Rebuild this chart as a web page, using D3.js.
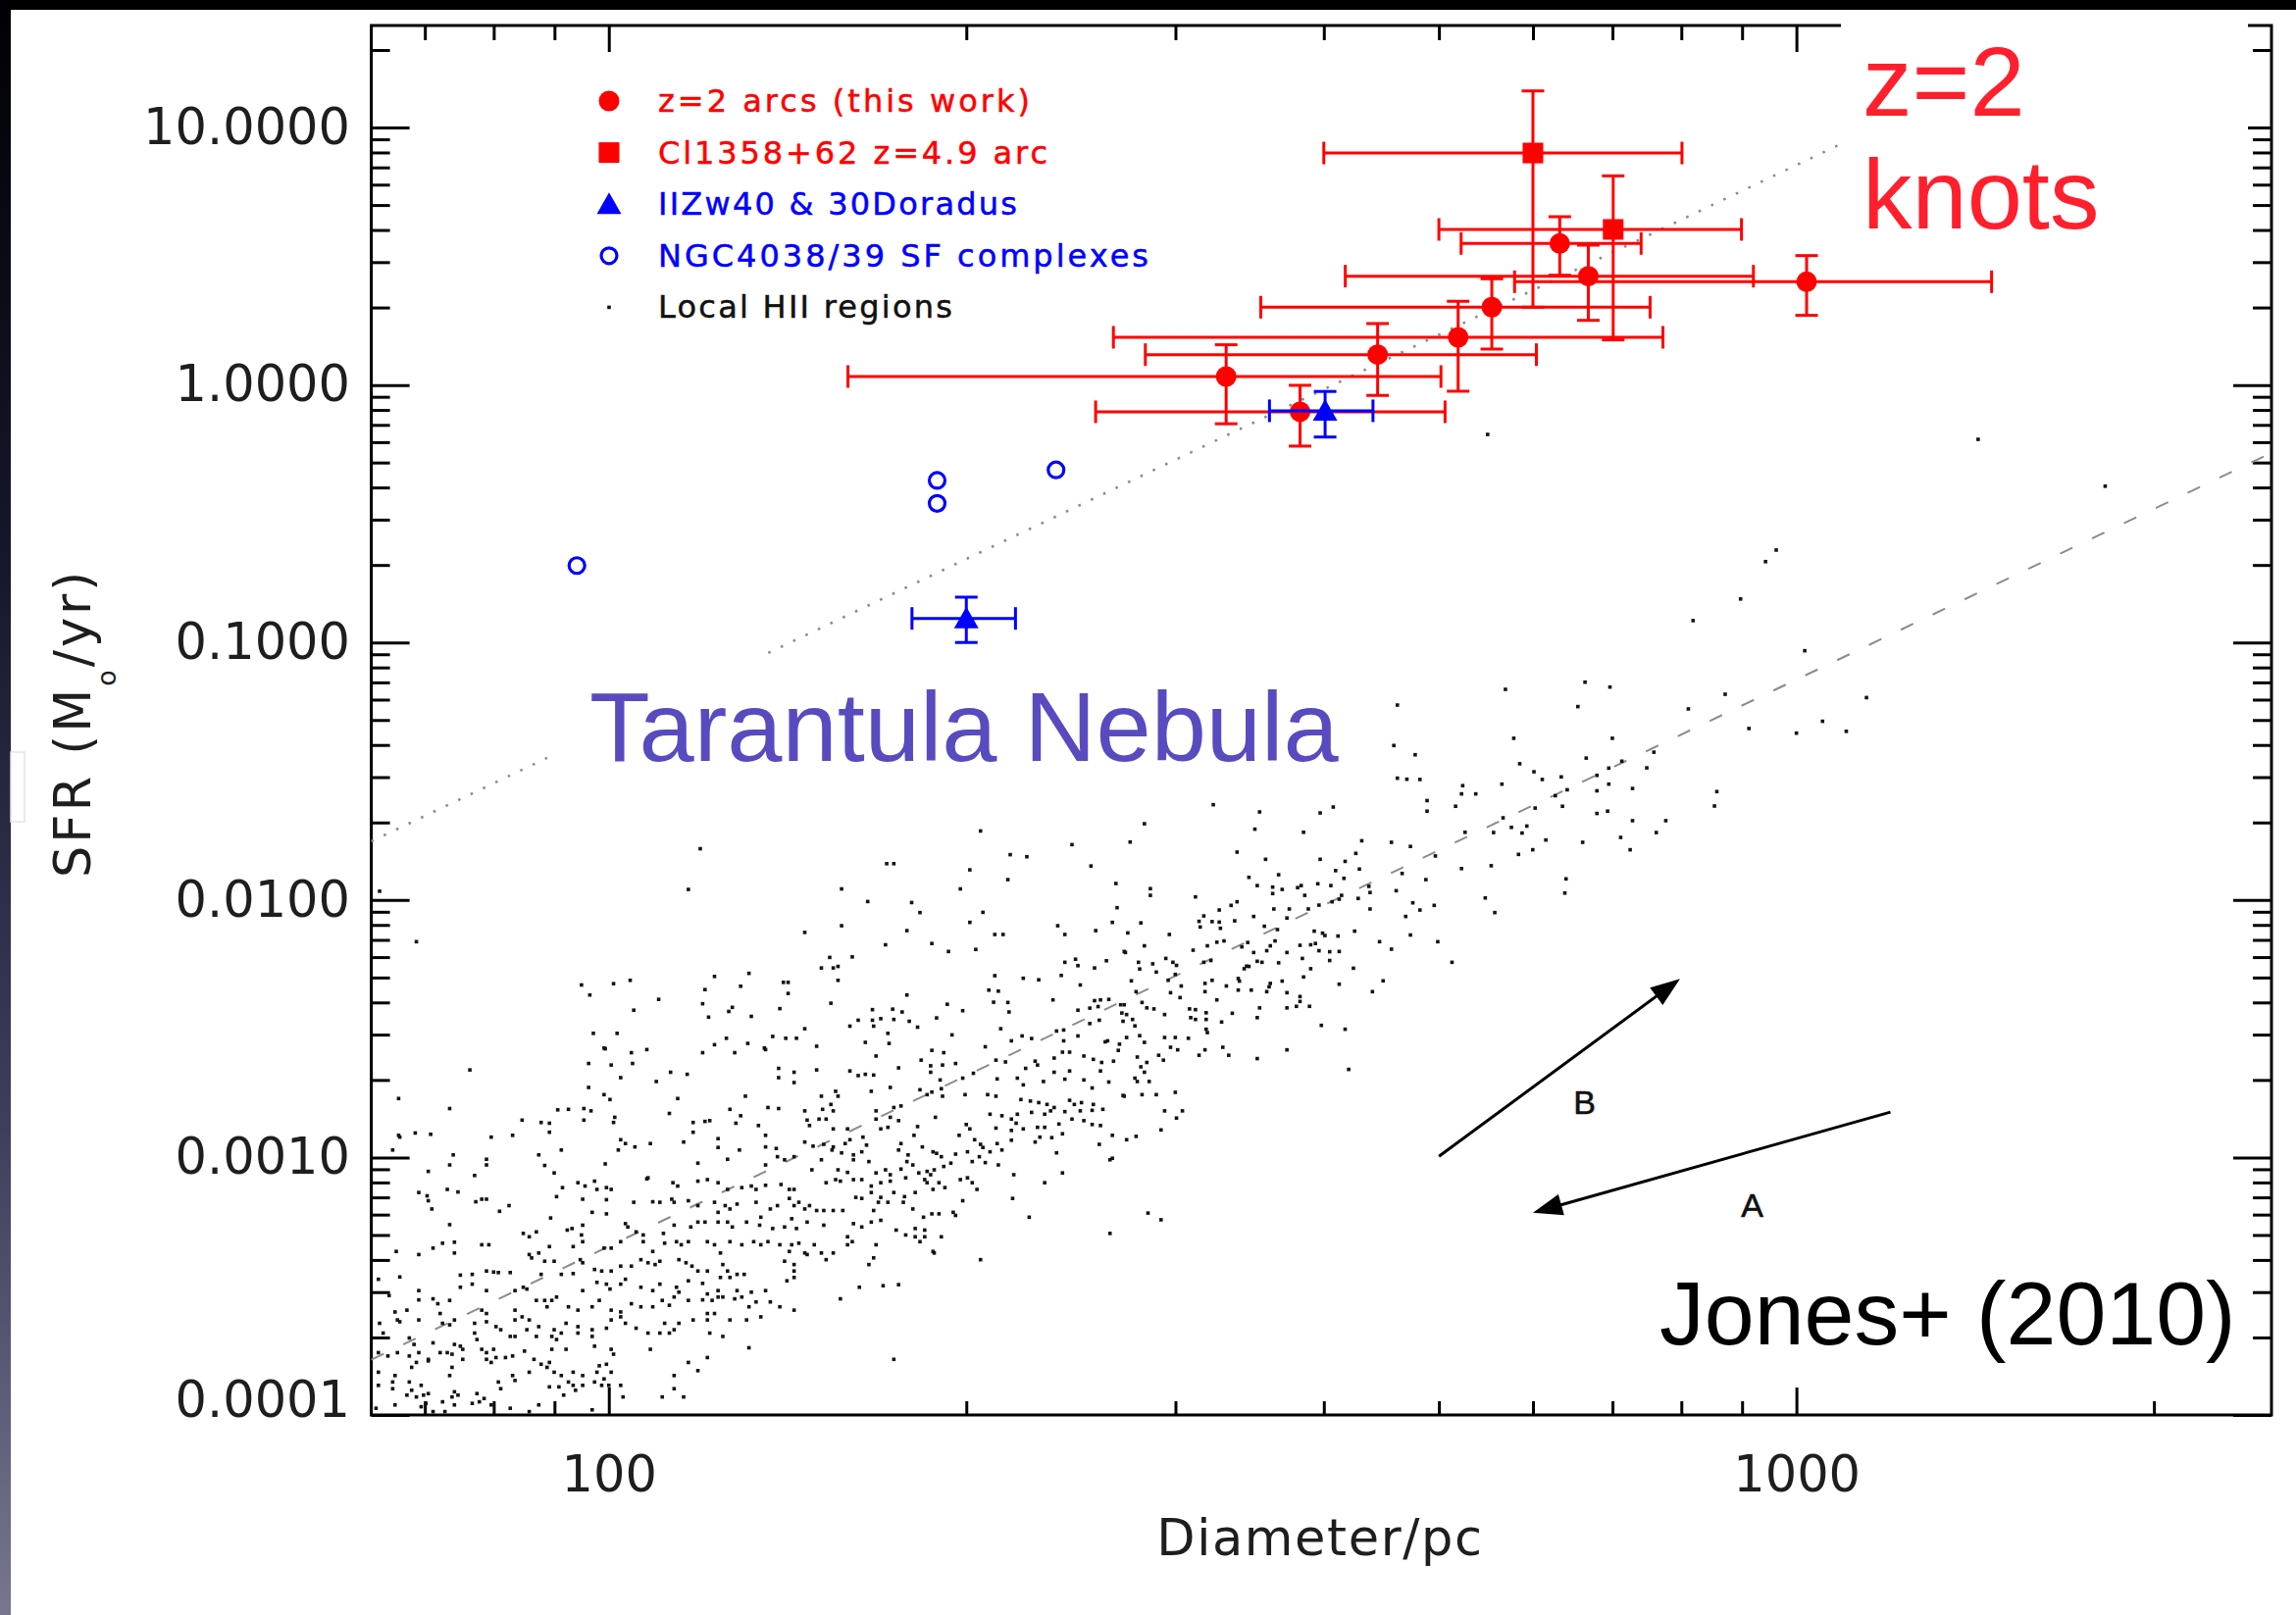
<!DOCTYPE html>
<html>
<head>
<meta charset="utf-8">
<script src="https://cdn.jsdelivr.net/npm/d3@7"></script>
<style>
  html, body { margin: 0; padding: 0; background: #fff; }
  svg { display: block; }
</style>
</head>
<body>
<div id="chart"></div>
<script>
//
// Data (Jones+ 2010, SFR vs diameter)
//
const yTickValues = [0.0001, 0.001, 0.01, 0.1, 1, 10]
const yTickLabels = ['0.0001', '0.0010', '0.0100', '0.1000', '1.0000', '10.0000']
const xTickValues = [100, 1000]
const xTickLabels = ['100', '1000']

// [diameter pc, d low, d high, SFR, sfr low, sfr high]
const z2Arcs = [
  [331, 159, 502, 1.079, 0.707, 1.433],
  [382, 257, 506, 0.787, 0.579, 0.997],
  [444, 283, 604, 1.312, 0.911, 1.732],
  [519, 266, 772, 1.532, 0.946, 2.114],
  [554, 354, 753, 2.005, 1.379, 2.586],
  [632, 522, 740, 3.545, 2.669, 4.504],
  [668, 417, 920, 2.646, 1.783, 3.493],
  [1020, 579, 1460, 2.518, 1.864, 3.181]
]
const cl1358Arc = [
  [600, 400, 801, 7.96, 2.005, 13.87],
  [701, 500, 899, 4.02, 1.497, 6.49]
]
const iizw40Doradus = [
  [401, 360, 440, 0.794, 0.628, 0.944],
  [200, 180, 220, 0.124, 0.100, 0.150]
]
// [diameter pc, SFR]
const ngc4038Complexes = [[94, 0.199], [189, 0.426], [189, 0.347], [238, 0.468]]

// local HII regions, [log10 diameter, log10 SFR]
const hiiRegions = [
  [1.807,-1.966],[1.838,-2.162],[2.077,-1.801],[2.067,-1.959],[2.313,-1.732],[2.390,-1.785],[2.338,-1.824],[2.352,-1.832],[2.406,-1.868],[2.234,-1.859],[2.240,-1.859],[2.304,-1.883],[2.336,-1.921],[2.427,-1.936],[2.196,-1.957],[2.296,-1.957],[2.218,-2.006],[2.255,-2.010],[2.262,-2.049],[2.315,-2.048],[2.428,-2.030],[2.304,-2.087],[2.424,-2.087],[2.196,-2.100],[2.378,-2.100],[2.384,-2.134],[2.410,-2.119],[2.251,-2.119],[2.165,-2.126],[2.325,-2.134],[2.332,-2.134],[2.272,-2.169],[2.233,-2.174],[2.286,-2.200],[2.309,-2.192],[2.434,-2.200],[2.186,-2.223],[2.205,-2.221],[2.179,-2.264],[2.189,-2.264],[2.193,-2.258],[2.193,-2.312],[2.384,-2.242],[2.393,-2.230],[2.395,-2.255],[2.409,-2.264],[2.419,-2.236],[2.089,-2.297],[2.118,-2.285],[2.325,-2.294],[2.349,-2.304],[2.362,-2.310],[2.381,-2.293],[1.977,-2.330],[1.984,-2.369],[2.004,-2.325],[2.018,-2.312],[2.147,-2.320],[2.151,-2.320],[2.081,-2.348],[2.111,-2.335],[2.151,-2.363],[2.397,-2.330],[2.320,-2.350],[2.328,-2.354],[2.251,-2.369],[2.042,-2.386],[2.079,-2.403],[2.187,-2.401],[2.374,-2.388],[2.324,-2.397],[2.336,-2.398],[2.285,-2.405],[2.409,-2.391],[2.414,-2.388],[2.421,-2.386],[2.431,-2.407],[2.021,-2.428],[2.101,-2.433],[2.104,-2.417],[2.144,-2.422],[2.222,-2.426],[2.239,-2.424],[2.247,-2.435],[2.298,-2.430],[2.337,-2.435],[2.395,-2.428],[2.405,-2.420],[2.412,-2.414],[2.432,-2.439],[2.084,-2.455],[2.120,-2.452],[2.210,-2.467],[2.222,-2.467],[2.229,-2.461],[2.240,-2.464],[2.276,-2.458],[2.253,-2.471],[2.260,-2.494],[2.203,-2.490],[2.223,-2.490],[2.413,-2.467],[2.405,-2.480],[2.433,-2.471],[1.987,-2.518],[2.007,-2.518],[2.165,-2.500],[2.330,-2.500],[2.377,-2.509],[2.383,-2.505],[2.235,-2.518],[2.289,-2.524],[2.099,-2.537],[2.138,-2.530],[2.149,-2.537],[2.158,-2.537],[2.348,-2.528],[2.356,-2.538],[2.395,-2.528],[1.996,-2.575],[2.089,-2.562],[2.117,-2.557],[2.131,-2.575],[2.175,-2.568],[2.216,-2.553],[2.236,-2.557],[2.317,-2.570],[2.339,-2.547],[2.383,-2.547],[2.418,-2.551],[2.420,-2.547],[2.430,-2.560],
  [3.007,-1.032],[3.059,-1.214],[2.755,-1.182],[2.822,-1.154],[2.843,-1.173],[2.816,-1.249],[2.664,-1.243],[2.940,-1.201],[2.909,-1.258],[2.960,-1.334],[3.000,-1.352],[3.022,-1.306],[3.042,-1.345],[2.661,-1.400],[2.679,-1.436],[2.762,-1.372],[2.845,-1.372],[2.880,-1.426],[2.767,-1.471],[2.779,-1.502],[2.786,-1.532],[2.802,-1.522],[2.823,-1.449],[2.874,-1.487],[2.842,-1.488],[2.853,-1.461],[2.664,-1.527],[2.672,-1.531],[2.683,-1.532],[2.719,-1.556],[2.730,-1.588],[2.718,-1.588],[2.752,-1.550],[2.832,-1.516],[2.842,-1.550],[2.832,-1.576],[2.862,-1.567],[2.933,-1.579],[2.931,-1.635],[2.807,-1.572],[2.797,-1.595],[2.689,-1.614],[2.689,-1.655],[2.713,-1.636],[2.780,-1.643],[2.803,-1.636],[2.832,-1.664],[2.841,-1.655],[2.862,-1.692],[2.890,-1.692],[2.509,-1.630],[2.548,-1.658],[2.599,-1.662],[2.610,-1.639],[2.451,-1.704],[2.439,-1.775],[2.544,-1.725],[2.585,-1.737],[2.753,-1.681],[2.760,-1.718],[2.773,-1.713],[2.769,-1.740],[2.721,-1.737],[2.745,-1.738],[2.882,-1.738],[2.852,-1.757],[2.820,-1.776],[2.789,-1.767],[2.778,-1.805],[2.766,-1.823],[2.659,-1.776],[2.675,-1.792],[2.696,-1.829],[2.634,-1.770],[2.629,-1.819],[2.529,-1.814],[2.553,-1.842],[2.599,-1.842],[2.620,-1.850],[2.632,-1.880],[2.860,-1.805],[2.718,-1.878],[2.743,-1.867],[2.539,-1.912],[2.564,-1.902],[2.612,-1.886],[2.619,-1.916],[2.668,-1.897],[2.546,-1.944],[2.559,-1.950],[2.567,-1.959],[2.580,-1.952],[2.583,-1.944],[2.597,-1.937],[2.608,-1.944],[2.640,-1.947],[2.688,-1.921],[2.806,-1.918],[2.805,-1.973],[2.456,-1.956],[2.456,-1.982],[2.494,-1.988],[2.586,-1.982],[2.559,-1.975],[2.617,-1.982],[2.609,-2.007],[2.615,-1.997],[2.631,-1.994],[2.641,-1.971],[2.663,-1.964],[2.738,-1.992],[2.746,-2.049],[2.677,-2.011],[2.683,-2.039],[2.695,-2.021],[2.514,-2.039],[2.524,-2.021],[2.529,-2.007],[2.560,-2.035],[2.573,-2.035],[2.589,-2.035],[2.598,-2.020],[2.641,-2.035],[2.501,-2.062],[2.497,-2.083],[2.498,-2.105],[2.508,-2.084],[2.514,-2.086],[2.515,-2.110],[2.527,-2.081],[2.543,-2.064],[2.552,-2.102],[2.563,-2.115],[2.571,-2.070],[2.671,-2.064],[2.448,-2.089],[2.437,-2.128],[2.472,-2.134],[2.594,-2.121],[2.601,-2.129],[2.603,-2.138],[2.614,-2.140],[2.628,-2.121],[2.675,-2.136],[2.698,-2.162],[2.649,-2.162],[2.659,-2.191],[2.435,-2.204],[2.451,-2.178],[2.492,-2.195],[2.504,-2.178],[2.512,-2.164],[2.518,-2.159],[2.533,-2.182],[2.538,-2.165],[2.543,-2.204],[2.554,-2.197],[2.557,-2.178],[2.561,-2.159],[2.571,-2.204],[2.582,-2.176],[2.591,-2.174],[2.595,-2.169],[2.598,-2.197],[2.607,-2.201],[2.615,-2.200],[2.446,-2.242],[2.458,-2.248],[2.469,-2.227],[2.475,-2.242],[2.478,-2.254],[2.501,-2.242],[2.507,-2.235],[2.539,-2.258],[2.546,-2.238],[2.550,-2.242],[2.564,-2.244],[2.584,-2.227],[2.591,-2.267],[2.607,-2.235],[2.627,-2.265],[2.710,-2.242],[2.461,-2.280],[2.477,-2.289],[2.447,-2.268],[2.535,-2.267],[2.537,-2.257],[2.440,-2.314],[2.471,-2.312],[2.502,-2.324],[2.508,-2.312],[2.520,-2.334],[2.530,-2.305],[2.531,-2.315],[2.557,-2.324],[2.567,-2.315],[2.585,-2.299],[2.615,-2.327],[2.652,-2.314],[2.643,-2.356],[2.444,-2.356],[2.482,-2.334],[2.473,-2.360],[2.481,-2.379],[2.502,-2.356],[2.512,-2.388],[2.530,-2.350],[2.541,-2.350],[2.554,-2.356],[2.556,-2.337],[2.571,-2.360],[2.582,-2.375],[2.434,-2.407],[2.449,-2.398],[2.453,-2.419],[2.459,-2.423],[2.468,-2.445],[2.489,-2.423],[2.494,-2.426],[2.490,-2.457],[2.494,-2.464],[2.503,-2.438],[2.503,-2.464],[2.525,-2.440],[2.516,-2.474],[2.548,-2.419],[2.571,-2.419],[2.579,-2.413],[2.590,-2.413],[2.582,-2.394],[2.546,-2.457],[2.436,-2.445],[2.441,-2.464],[2.600,-2.487],[2.620,-2.502],[2.503,-2.502],[2.504,-2.515],[2.443,-2.489],[2.436,-2.534],[2.447,-2.527],[2.451,-2.553],[2.468,-2.534],[2.477,-2.534],[2.488,-2.537],[2.473,-2.572],[2.517,-2.572],
  [1.997,-2.578],[2.019,-2.593],[2.032,-2.581],[2.079,-2.593],[2.106,-2.593],[2.132,-2.581],[2.225,-2.606],[2.272,-2.584],[2.282,-2.593],[2.334,-2.629],[2.326,-2.622],[2.359,-2.626],[2.375,-2.614],[2.382,-2.591],[2.388,-2.591],[2.400,-2.606],[2.408,-2.619],[2.415,-2.631],[2.429,-2.584],
  [1.983,-2.635],[2.002,-2.641],[2.020,-2.635],[1.883,-2.660],[2.143,-2.654],[2.156,-2.669],[2.175,-2.660],[2.203,-2.664],[2.210,-2.682],[2.216,-2.677],[2.223,-2.680],[2.244,-2.652],[2.263,-2.622],[2.271,-2.644],[2.281,-2.641],[2.292,-2.635],[2.351,-2.654],[2.361,-2.641],[2.375,-2.669],[2.388,-2.664],[2.414,-2.664],[2.425,-2.626],
  [2.010,-2.690],[2.052,-2.669],[2.066,-2.677],[2.143,-2.690],[2.156,-2.709],[2.271,-2.669],[2.279,-2.699],[2.298,-2.692],[2.307,-2.673],[2.327,-2.695],[2.344,-2.692],[2.349,-2.718],[2.366,-2.705],[2.384,-2.696],[2.400,-2.699],[2.407,-2.730],[2.421,-2.707],[1.983,-2.728],[2.040,-2.705],[2.237,-2.728],[2.262,-2.737],[2.272,-2.746],[2.280,-2.733],
  [1.823,-2.771],[1.866,-2.810],[1.996,-2.756],[2.001,-2.775],[2.058,-2.771],[2.115,-2.762],[2.179,-2.762],[2.187,-2.794],[2.191,-2.743],[2.193,-2.762],[2.221,-2.743],[2.268,-2.756],[2.281,-2.762],[2.300,-2.756],[2.319,-2.756],[2.326,-2.762],[2.347,-2.775],[2.355,-2.781],[2.362,-2.787],[2.369,-2.794],[2.375,-2.806],[2.388,-2.778],[2.392,-2.794],[2.398,-2.787],[2.408,-2.794],[2.416,-2.813],[2.434,-2.762],[1.957,-2.815],[1.966,-2.813],[1.979,-2.810],[1.985,-2.819],[2.051,-2.829],[2.102,-2.813],[2.111,-2.838],[2.134,-2.806],[2.143,-2.810],[2.165,-2.819],[2.180,-2.813],[2.189,-2.819],[2.225,-2.819],[2.240,-2.806],[2.246,-2.800],[2.321,-2.832],[2.331,-2.838],[2.344,-2.832],[2.356,-2.825],[2.367,-2.832],[2.372,-2.819],[2.384,-2.822],[2.397,-2.819],[2.407,-2.817],
  [1.927,-2.855],[1.943,-2.864],[1.950,-2.867],[1.979,-2.855],[2.004,-2.864],[2.005,-2.844],[2.071,-2.864],[2.081,-2.860],[2.085,-2.857],[2.107,-2.867],[2.126,-2.876],[2.167,-2.855],[2.177,-2.851],[2.183,-2.851],[2.169,-2.876],[2.189,-2.889],[2.201,-2.889],[2.225,-2.851],[2.237,-2.844],[2.244,-2.857],[2.229,-2.889],[2.260,-2.880],[2.275,-2.844],[2.339,-2.851],[2.343,-2.867],[2.361,-2.883],[2.367,-2.883],[2.379,-2.870],[2.390,-2.851],[2.400,-2.857],[2.407,-2.872],[2.414,-2.876],[1.823,-2.914],[1.837,-2.905],[1.850,-2.910],[1.950,-2.902],[2.071,-2.902],[2.235,-2.883],[2.301,-2.872],[2.304,-2.889],[2.326,-2.886],[2.339,-2.895],[2.349,-2.889],
  [1.901,-2.921],[1.919,-2.914],[2.010,-2.931],[2.014,-2.946],[2.022,-2.959],[2.035,-2.946],[2.063,-2.940],[2.092,-2.927],[2.092,-2.961],[2.110,-2.971],[2.132,-2.914],[2.132,-2.959],[2.141,-2.965],[2.165,-2.940],[2.172,-2.956],[2.181,-2.949],[2.189,-2.959],[2.199,-2.946],[2.203,-2.931],[2.214,-2.921],[2.217,-2.952],[2.246,-2.946],[2.257,-2.914],[2.264,-2.959],[2.295,-2.914],[2.308,-2.931],[2.313,-2.949],[2.315,-2.961],[2.321,-2.978],[2.327,-2.946],[2.331,-2.971],[2.339,-2.933],[2.359,-2.940],[2.363,-2.921],[2.373,-2.923],[2.382,-2.908],[2.413,-2.949],[2.424,-2.914],[1.960,-2.971],[2.008,-2.971],[1.824,-2.921],[1.818,-2.971],[1.869,-2.990],[2.206,-2.990],[2.213,-2.978],[2.244,-2.971],[2.252,-2.990],[2.273,-2.978],[2.276,-2.984],[2.280,-2.997],[2.292,-2.987],[2.302,-2.978],[2.312,-2.997],[2.377,-2.982],[2.424,-3.003],
  [1.866,-3.029],[1.897,-3.007],[1.897,-3.029],[1.941,-2.990],[1.946,-3.031],[1.954,-3.060],[1.997,-3.025],[2.032,-3.083],[2.075,-3.022],[2.100,-3.007],[2.132,-3.029],[2.142,-2.997],[2.148,-3.009],[2.156,-2.997],[2.171,-3.048],[2.179,-3.009],[2.188,-2.971],[2.196,-2.982],[2.193,-3.048],[2.201,-3.058],[2.206,-3.009],[2.219,-3.016],[2.225,-3.060],[2.233,-3.048],[2.237,-3.067],[2.246,-3.045],[2.251,-3.016],[2.256,-3.029],[2.261,-3.060],[2.268,-3.054],[2.274,-3.048],[2.282,-3.035],[2.288,-3.022],[2.306,-3.016],[2.317,-3.020],[2.328,-3.029],[2.341,-3.067],[2.382,-3.060],[2.422,-3.009],[1.848,-3.054],[1.887,-3.070],
  [1.840,-3.136],[1.847,-3.149],[1.864,-3.124],[1.873,-3.134],[1.893,-3.162],[1.961,-3.117],[1.974,-3.098],[1.980,-3.111],[1.988,-3.092],[1.990,-3.124],[1.998,-3.117],[2.002,-3.124],[1.956,-3.152],[1.978,-3.162],[1.998,-3.164],[2.033,-3.079],[2.054,-3.098],[2.058,-3.111],[2.075,-3.092],[2.083,-3.086],[2.092,-3.098],[2.100,-3.124],[2.112,-3.117],[2.120,-3.111],[2.124,-3.124],[2.132,-3.108],[2.145,-3.105],[2.152,-3.124],[2.156,-3.124],[2.183,-3.098],[2.191,-3.086],[2.195,-3.092],[2.206,-3.086],[2.213,-3.086],[2.221,-3.111],[2.229,-3.098],[2.237,-3.092],[2.250,-3.079],[2.266,-3.086],[2.271,-3.067],[2.278,-3.098],[2.283,-3.117],[2.296,-3.086],[2.302,-3.079],[2.306,-3.098],[2.310,-3.124],[2.367,-3.098],[2.208,-3.155],[2.221,-3.136],[2.229,-3.155],[2.240,-3.136],[2.249,-3.152],[2.258,-3.136],[2.268,-3.098],[2.273,-3.124],[2.298,-3.168],[2.340,-3.159],
  [1.848,-3.168],[1.851,-3.200],[1.888,-3.172],[1.897,-3.162],[1.908,-3.209],[1.916,-3.187],[1.951,-3.235],[1.986,-3.213],[1.998,-3.219],[2.021,-3.174],[2.037,-3.172],[2.043,-3.174],[2.053,-3.162],[2.055,-3.174],[2.067,-3.168],[2.075,-3.187],[2.089,-3.174],[2.092,-3.213],[2.098,-3.187],[2.102,-3.200],[2.108,-3.181],[2.124,-3.174],[2.136,-3.200],[2.142,-3.187],[2.152,-3.159],[2.156,-3.187],[2.160,-3.174],[2.165,-3.200],[2.169,-3.187],[2.175,-3.206],[2.181,-3.206],[2.189,-3.206],[2.197,-3.206],[2.213,-3.159],[2.223,-3.206],[2.227,-3.174],[2.235,-3.174],[2.248,-3.174],[2.256,-3.200],[2.265,-3.232],[2.272,-3.219],[2.278,-3.219],[2.290,-3.213],[2.292,-3.225],[2.354,-3.232],
  [1.866,-3.261],[2.014,-3.257],[2.016,-3.270],[2.023,-3.289],[2.029,-3.301],[2.046,-3.295],[2.055,-3.263],[2.069,-3.270],[2.075,-3.251],[2.081,-3.251],[2.092,-3.251],[2.100,-3.251],[2.104,-3.270],[2.116,-3.251],[2.128,-3.232],[2.127,-3.263],[2.138,-3.276],[2.148,-3.270],[2.154,-3.238],[2.158,-3.276],[2.167,-3.251],[2.181,-3.263],[2.206,-3.257],[2.213,-3.270],[2.221,-3.251],[2.229,-3.244],[2.242,-3.282],[2.258,-3.276],[2.266,-3.282],[2.422,-3.295],[1.928,-3.295],[1.933,-3.308],[1.939,-3.289],[1.965,-3.282],[1.969,-3.276],[1.978,-3.263],[1.977,-3.301],
  [1.840,-3.377],[1.852,-3.352],[1.860,-3.333],[1.870,-3.329],[1.870,-3.371],[1.893,-3.339],[1.899,-3.339],[1.821,-3.365],[1.933,-3.377],[1.941,-3.371],[1.950,-3.346],[1.970,-3.346],[1.978,-3.327],[1.996,-3.352],[2.002,-3.352],[2.010,-3.327],[2.029,-3.327],[2.037,-3.365],[2.047,-3.333],[2.057,-3.327],[2.061,-3.339],[2.067,-3.327],[2.083,-3.327],[2.089,-3.339],[2.094,-3.371],[2.102,-3.327],[2.112,-3.339],[2.122,-3.327],[2.128,-3.339],[2.134,-3.327],[2.144,-3.339],[2.152,-3.365],[2.154,-3.339],[2.160,-3.333],[2.173,-3.339],[2.179,-3.371],[2.189,-3.371],[2.201,-3.308],[2.201,-3.339],[2.205,-3.327],[2.225,-3.339],[2.250,-3.301],[2.258,-3.308],[2.262,-3.327],[2.266,-3.308],[2.274,-3.371],[2.280,-3.308],[2.313,-3.397],[2.273,-3.365],
  [1.806,-3.473],[1.824,-3.464],[1.875,-3.457],[1.885,-3.454],[1.897,-3.441],[1.903,-3.445],[1.907,-3.447],[1.917,-3.447],[1.935,-3.390],[1.946,-3.403],[1.954,-3.403],[1.960,-3.454],[1.943,-3.454],[1.970,-3.451],[1.976,-3.397],[1.988,-3.435],[1.994,-3.441],[2.002,-3.441],[2.010,-3.422],[2.019,-3.422],[2.027,-3.397],[2.033,-3.409],[2.039,-3.416],[2.043,-3.403],[2.059,-3.397],[2.065,-3.409],[2.070,-3.422],[2.075,-3.441],[2.083,-3.441],[2.096,-3.416],[2.100,-3.441],[2.108,-3.454],[2.114,-3.454],[2.148,-3.403],[2.156,-3.416],[2.156,-3.441],[2.165,-3.371],[2.167,-3.377],[2.183,-3.397],[2.219,-3.416],[2.223,-3.390],[1.978,-3.409],
  [1.840,-3.517],[1.875,-3.504],[1.885,-3.492],[1.897,-3.517],[1.921,-3.517],[1.928,-3.504],[1.931,-3.511],[1.978,-3.517],[1.990,-3.485],[1.998,-3.492],[2.001,-3.511],[2.010,-3.492],[2.014,-3.473],[2.027,-3.504],[2.037,-3.517],[2.043,-3.492],[2.057,-3.504],[2.059,-3.523],[2.067,-3.479],[2.079,-3.489],[2.083,-3.530],[2.092,-3.517],[2.094,-3.466],[2.102,-3.466],[2.108,-3.517],[2.120,-3.523],[2.132,-3.517],[2.150,-3.479],[2.156,-3.466],[2.211,-3.504],[2.231,-3.498],[2.244,-3.494],[2.195,-3.549],[1.815,-3.536],[1.840,-3.553],[1.852,-3.549],
  [1.820,-3.600],[1.830,-3.593],[1.824,-3.638],[1.856,-3.568],[1.858,-3.606],[1.866,-3.555],[1.893,-3.593],[1.897,-3.606],[1.921,-3.593],[1.927,-3.619],[1.933,-3.631],[1.939,-3.555],[1.946,-3.555],[1.948,-3.580],[1.952,-3.555],[1.956,-3.542],[1.966,-3.580],[1.974,-3.593],[1.986,-3.580],[1.992,-3.555],[2.002,-3.593],[2.010,-3.600],[2.019,-3.568],[2.027,-3.580],[2.037,-3.580],[2.045,-3.555],[2.051,-3.574],[2.055,-3.542],[2.067,-3.555],[2.079,-3.553],[2.087,-3.555],[2.092,-3.542],[2.089,-3.606],[2.096,-3.542],[2.106,-3.549],[2.112,-3.542],[2.118,-3.580],[2.124,-3.561],[2.136,-3.561],[2.144,-3.580],[2.156,-3.593],[2.128,-3.619],
  [1.807,-3.644],[1.822,-3.631],[1.840,-3.631],[1.860,-3.644],[1.866,-3.650],[1.870,-3.631],[1.887,-3.644],[1.897,-3.638],[1.905,-3.657],[1.909,-3.669],[1.921,-3.631],[1.931,-3.669],[1.941,-3.657],[1.954,-3.669],[1.964,-3.644],[1.974,-3.657],[1.986,-3.669],[1.998,-3.663],[2.002,-3.631],[2.010,-3.619],[2.014,-3.644],[2.023,-3.663],[2.033,-3.682],[2.047,-3.644],[2.055,-3.669],[2.059,-3.644],[2.071,-3.631],[2.083,-3.606],[2.083,-3.631],[2.102,-3.631],[2.116,-3.631],[2.043,-3.682],[2.051,-3.682],[2.096,-3.695],[2.085,-3.682],[1.810,-3.682],
  [1.832,-3.701],[1.836,-3.726],[1.852,-3.720],[1.858,-3.758],[1.864,-3.758],[1.870,-3.726],[1.875,-3.733],[1.877,-3.745],[1.887,-3.682],[1.889,-3.707],[1.893,-3.745],[1.897,-3.758],[1.903,-3.745],[1.917,-3.695],[1.921,-3.695],[1.939,-3.695],[1.952,-3.695],[1.956,-3.707],[1.960,-3.682],[1.974,-3.682],[1.986,-3.695],[1.988,-3.733],[1.964,-3.745],[1.952,-3.745],[1.929,-3.752],[2.002,-3.745],[2.004,-3.764],[2.035,-3.745],[2.067,-3.796],[2.083,-3.777],[2.118,-3.739],[1.806,-3.758],[1.814,-3.771],[1.822,-3.758],[1.832,-3.771],[1.840,-3.758],[1.848,-3.784],[1.868,-3.764],
  [1.806,-3.834],[1.820,-3.847],[1.834,-3.815],[1.838,-3.796],[1.848,-3.790],[1.868,-3.815],[1.866,-3.847],[1.877,-3.784],[1.897,-3.784],[1.901,-3.796],[1.905,-3.777],[1.913,-3.777],[1.919,-3.771],[1.937,-3.784],[1.943,-3.803],[1.950,-3.796],[1.948,-3.815],[1.954,-3.834],[1.933,-3.834],[1.919,-3.847],[1.960,-3.847],[1.970,-3.834],[1.978,-3.847],[1.992,-3.809],[1.998,-3.803],[1.996,-3.860],[1.990,-3.834],[2.002,-3.834],[2.055,-3.847],[2.075,-3.828],[2.240,-3.784],
  [1.806,-3.885],[1.818,-3.872],[1.818,-3.898],[1.832,-3.872],[1.842,-3.885],[1.834,-3.904],[1.870,-3.910],[1.873,-3.923],[1.889,-3.917],[1.907,-3.872],[1.909,-3.898],[1.921,-3.866],[1.950,-3.891],[1.958,-3.891],[1.966,-3.872],[1.970,-3.885],[1.972,-3.904],[1.978,-3.885],[1.988,-3.872],[1.994,-3.885],[2.000,-3.885],[2.010,-3.885],[2.012,-3.930],[2.045,-3.930],[2.055,-3.898],[2.063,-3.930],[1.962,-3.923],
  [1.830,-3.923],[1.838,-3.930],[1.844,-3.923],[1.846,-3.955],[1.848,-3.917],[1.860,-3.949],[1.868,-3.930],[1.870,-3.961],[1.885,-3.955],[1.891,-3.949],[1.895,-3.936],[1.901,-3.961],[1.852,-3.987],[1.862,-3.987],[1.917,-3.974],[1.933,-3.987],[1.941,-3.961],[1.986,-3.980],[1.804,-3.974],[1.820,-3.961],[1.842,-3.968],
  [2.445,-2.610],[2.453,-2.631],[2.463,-2.603],[2.467,-2.622],[2.479,-2.582],[2.497,-2.603],[2.502,-2.582],[2.522,-2.603],[2.546,-2.616],[2.571,-2.582],[2.448,-2.648],[2.451,-2.669],[2.443,-2.692],[2.445,-2.705],[2.455,-2.705],[2.433,-2.759],[2.449,-2.756],[2.461,-2.756],[2.477,-2.747],[2.468,-2.819],[2.483,-2.819],[2.478,-2.847],[2.436,-2.931],[2.444,-2.918],[2.465,-2.893],[2.623,-2.658],[2.454,-3.216],[2.465,-3.242],
  [2.740,-0.192],[3.153,-0.211],[3.260,-0.393],[2.983,-0.641],[2.974,-0.686],[2.953,-0.831],[2.913,-0.915]
]

// reference relations drawn as lines, [diameter pc, SFR]
const dottedRelation = [[63.1, 0.0169], [1089, 8.61]]
const dashedRelation = [[63.1, 0.000164], [2512, 0.545]]
// annotation arrows, [from, to] in [diameter pc, SFR]
const arrowA = [[1200, 0.0015], [600, 0.00061]]
const arrowB = [[500, 0.00101], [798, 0.00494]]
const arrowLabels = [['A', 918, 0.000655], ['B', 663, 0.00164]]

const legendLabels = ['z=2 arcs (this work)', 'Cl1358+62 z=4.9 arc', 'IIZw40 & 30Doradus', 'NGC4038/39 SF complexes', 'Local HII regions']

//
// Drawing
//
const width = 2341
const height = 1647
const RED = '#ff0000'
const BLUE = '#0000ff'

const svg = d3.select('#chart').append('svg')
  .attr('width', width)
  .attr('height', height)
  .attr('viewBox', [0, 0, width, height])

// slide frame around the figure
const grad = svg.append('defs').append('linearGradient')
  .attr('id', 'edge').attr('x1', 0).attr('y1', 0).attr('x2', 0).attr('y2', 1)
grad.append('stop').attr('offset', '0%').attr('stop-color', '#000004')
grad.append('stop').attr('offset', '35%').attr('stop-color', '#17172c')
grad.append('stop').attr('offset', '70%').attr('stop-color', '#3f3e5c')
grad.append('stop').attr('offset', '100%').attr('stop-color', '#77768e')
svg.append('rect').attr('width', width).attr('height', height).attr('fill', '#fff')
svg.append('rect').attr('x', 0).attr('y', 0).attr('width', width).attr('height', 10).attr('fill', '#000')
svg.append('rect').attr('x', 0).attr('y', 0).attr('width', 11).attr('height', height).attr('fill', 'url(#edge)')
svg.append('rect').attr('x', 11).attr('y', 767).attr('width', 14).attr('height', 71)
  .attr('fill', '#fff').attr('stroke', '#e4e4e4').attr('stroke-width', 1.5)

const plot = { left: 378.6, right: 2316, top: 26, bottom: 1443 }
const x = d3.scaleLog().domain([63.1, 2512]).range([plot.left, plot.right])
const y = d3.scaleLog().domain([1e-4, 24.9]).range([plot.bottom, plot.top])

const isMajor = (v, list) => list.some(t => Math.abs(v / t - 1) < 1e-6)
const xMinor = x.ticks().filter(v => !isMajor(v, xTickValues))
const yMinor = y.ticks().filter(v => !isMajor(v, yTickValues))

function tidy (g) {
  g.select('.domain').remove()
  g.selectAll('.tick line').attr('stroke', '#000').attr('stroke-width', 3)
  g.selectAll('.tick text')
    .attr('font-family', 'DejaVu Sans, sans-serif')
    .attr('font-size', 51)
    .attr('fill', '#1e1e1e')
}

// left axis
svg.append('g').attr('transform', `translate(${plot.left},0)`)
  .call(d3.axisLeft(y).tickValues(yTickValues).tickSize(-39).tickPadding(21.6)
    .tickFormat(d => yTickLabels[yTickValues.indexOf(d)]))
  .call(tidy)
  // the lowest label sits just above the bottom axis line
  .call(g => g.selectAll('.tick text').filter(d => d === yTickValues[0]).attr('dy', '0.02em'))
svg.append('g').attr('transform', `translate(${plot.left},0)`)
  .call(d3.axisLeft(y).tickValues(yMinor).tickSize(-19).tickFormat(''))
  .call(tidy)
// right axis
svg.append('g').attr('transform', `translate(${plot.right},0)`)
  .call(d3.axisRight(y).tickValues(yTickValues).tickSize(-39).tickFormat(''))
  .call(tidy)
svg.append('g').attr('transform', `translate(${plot.right},0)`)
  .call(d3.axisRight(y).tickValues(yMinor).tickSize(-19).tickFormat(''))
  .call(tidy)
// bottom axis
svg.append('g').attr('transform', `translate(0,${plot.bottom})`)
  .call(d3.axisBottom(x).tickValues(xTickValues).tickSize(-28).tickPadding(42)
    .tickFormat(d => xTickLabels[xTickValues.indexOf(d)]))
  .call(tidy)
svg.append('g').attr('transform', `translate(0,${plot.bottom})`)
  .call(d3.axisBottom(x).tickValues(xMinor).tickSize(-14).tickFormat(''))
  .call(tidy)
// top axis
svg.append('g').attr('transform', `translate(0,${plot.top})`)
  .call(d3.axisTop(x).tickValues(xTickValues).tickSize(-27).tickFormat(''))
  .call(tidy)
svg.append('g').attr('transform', `translate(0,${plot.top})`)
  .call(d3.axisTop(x).tickValues(xMinor).tickSize(-15).tickFormat(''))
  .call(tidy)

svg.append('rect')
  .attr('x', plot.left).attr('y', plot.top)
  .attr('width', plot.right - plot.left).attr('height', plot.bottom - plot.top)
  .attr('fill', 'none').attr('stroke', '#000').attr('stroke-width', 3)

// axis titles
svg.append('text')
  .attr('x', 1346).attr('y', 1586)
  .attr('text-anchor', 'middle')
  .attr('font-family', 'DejaVu Sans, sans-serif').attr('font-size', 51)
  .attr('letter-spacing', 1.6).attr('fill', '#1e1e1e')
  .text('Diameter/pc')

const yTitle = svg.append('text')
  .attr('transform', 'translate(92,895) rotate(-90)')
  .attr('font-family', 'DejaVu Sans, sans-serif').attr('font-size', 51)
  .attr('letter-spacing', 3).attr('fill', '#1e1e1e')
yTitle.append('tspan').text('SFR (M')
yTitle.append('tspan').attr('font-size', 27).attr('dy', 26).text('o')
yTitle.append('tspan').attr('dy', -26).text('/yr)')

// reference lines
const line = d3.line().x(d => x(d[0])).y(d => y(d[1]))
svg.append('path').datum(dashedRelation).attr('d', line)
  .attr('fill', 'none').attr('stroke', '#8c8c8c').attr('stroke-width', 2)
  .attr('stroke-dasharray', '14 22')
svg.append('path').datum(dottedRelation).attr('d', line)
  .attr('fill', 'none').attr('stroke', '#8c8c8c').attr('stroke-width', 2.6)
  .attr('stroke-dasharray', '2.6 11.4')

// local HII regions, drawn as small square dots
const dot = 3.6
svg.append('g').selectAll('rect')
  .data(hiiRegions)
  .join('rect')
  .attr('x', d => x(Math.pow(10, d[0])) - dot / 2)
  .attr('y', d => y(Math.pow(10, d[1])) - dot / 2)
  .attr('width', dot)
  .attr('height', dot)
  .attr('fill', '#141414')

// error bars with caps
function errorBars (rows, color) {
  const cap = 11.5
  const g = svg.append('g').attr('stroke', color).attr('stroke-width', 3).attr('fill', 'none')
  g.selectAll('line.xe').data(rows).join('line').attr('class', 'xe')
    .attr('x1', d => x(d[1])).attr('x2', d => x(d[2]))
    .attr('y1', d => y(d[3])).attr('y2', d => y(d[3]))
  g.selectAll('line.ye').data(rows).join('line').attr('class', 'ye')
    .attr('x1', d => x(d[0])).attr('x2', d => x(d[0]))
    .attr('y1', d => y(d[4])).attr('y2', d => y(d[5]))
  const xCaps = rows.flatMap(d => [[d[1], d[3]], [d[2], d[3]]])
  g.selectAll('line.xc').data(xCaps).join('line').attr('class', 'xc')
    .attr('x1', d => x(d[0])).attr('x2', d => x(d[0]))
    .attr('y1', d => y(d[1]) - cap).attr('y2', d => y(d[1]) + cap)
  const yCaps = rows.flatMap(d => [[d[0], d[4]], [d[0], d[5]]])
  g.selectAll('line.yc').data(yCaps).join('line').attr('class', 'yc')
    .attr('x1', d => x(d[0]) - cap).attr('x2', d => x(d[0]) + cap)
    .attr('y1', d => y(d[1])).attr('y2', d => y(d[1]))
}

function symbol (g, type, cx, cy, color) {
  if (type === 'circle') {
    g.append('circle').attr('cx', cx).attr('cy', cy).attr('r', 10.5).attr('fill', color)
  } else if (type === 'square') {
    g.append('rect').attr('x', cx - 10.5).attr('y', cy - 10.5).attr('width', 21).attr('height', 21).attr('fill', color)
  } else if (type === 'triangle') {
    g.append('path').attr('d', `M${cx - 12.5},${cy + 10}L${cx + 12.5},${cy + 10}L${cx},${cy - 12}Z`).attr('fill', color)
  } else if (type === 'ring') {
    g.append('circle').attr('cx', cx).attr('cy', cy).attr('r', 8).attr('fill', 'none')
      .attr('stroke', color).attr('stroke-width', 3.2)
  } else {
    g.append('rect').attr('x', cx - 1.8).attr('y', cy - 1.8).attr('width', 3.6).attr('height', 3.6).attr('fill', color)
  }
}

errorBars(z2Arcs, RED)
errorBars(cl1358Arc, RED)
const redMarks = svg.append('g')
z2Arcs.forEach(d => symbol(redMarks, 'circle', x(d[0]), y(d[3]), RED))
cl1358Arc.forEach(d => symbol(redMarks, 'square', x(d[0]), y(d[3]), RED))

errorBars(iizw40Doradus, BLUE)
const blueMarks = svg.append('g')
iizw40Doradus.forEach(d => symbol(blueMarks, 'triangle', x(d[0]), y(d[3]), BLUE))
ngc4038Complexes.forEach(d => symbol(blueMarks, 'ring', x(d[0]), y(d[1]), BLUE))

// arrows A and B
function arrow (pts) {
  const [sx, sy] = [x(pts[0][0]), y(pts[0][1])]
  const [tx, ty] = [x(pts[1][0]), y(pts[1][1])]
  const a = Math.atan2(ty - sy, tx - sx)
  const len = 30
  const hw = 11
  const bx = tx - len * Math.cos(a)
  const by = ty - len * Math.sin(a)
  svg.append('line').attr('x1', sx).attr('y1', sy).attr('x2', bx + 4 * Math.cos(a)).attr('y2', by + 4 * Math.sin(a))
    .attr('stroke', '#000').attr('stroke-width', 3)
  svg.append('path')
    .attr('d', `M${tx},${ty}L${bx - hw * Math.sin(a)},${by + hw * Math.cos(a)}L${bx + hw * Math.sin(a)},${by - hw * Math.cos(a)}Z`)
    .attr('fill', '#000')
}
arrow(arrowA)
arrow(arrowB)
svg.append('g').selectAll('text').data(arrowLabels).join('text')
  .attr('x', d => x(d[1])).attr('y', d => y(d[2]))
  .attr('text-anchor', 'middle').attr('dominant-baseline', 'central')
  .attr('font-family', 'Liberation Sans, Arial, sans-serif').attr('font-size', 34)
  .attr('stroke', '#111').attr('stroke-width', 0.6)
  .attr('fill', '#111')
  .text(d => d[0])

// legend
const legendLayout = {
  markerX: 621, textX: 671, firstY: 103, step: 52.6,
  lengths: [379, 397, 366, 500, 300],
  colors: [RED, RED, BLUE, BLUE, '#111'],
  symbols: ['circle', 'square', 'triangle', 'ring', 'dot']
}
const legend = svg.append('g')
legendLabels.forEach((label, i) => {
  const cy = legendLayout.firstY + i * legendLayout.step
  symbol(legend, legendLayout.symbols[i], legendLayout.markerX, cy, legendLayout.colors[i])
  legend.append('text')
    .attr('x', legendLayout.textX).attr('y', cy + 11)
    .attr('font-family', 'DejaVu Sans, sans-serif').attr('font-size', 32)
    .attr('textLength', legendLayout.lengths[i]).attr('lengthAdjust', 'spacing')
    .attr('fill', legendLayout.colors[i])
    .attr('stroke', legendLayout.colors[i]).attr('stroke-width', 0.5)
    .text(label)
})

// slide annotations with their white backing boxes
svg.append('rect').attr('x', 1877).attr('y', 10).attr('width', 415).attr('height', 245).attr('fill', '#fff')
svg.append('rect').attr('x', 567).attr('y', 668).attr('width', 815).attr('height', 132).attr('fill', '#fff')

svg.append('text')
  .attr('x', 601).attr('y', 776)
  .attr('font-family', 'Liberation Sans, Arial, sans-serif').attr('font-size', 101)
  .attr('fill', '#584bc0')
  .text('Tarantula Nebula')

const knots = svg.append('text')
  .attr('font-family', 'Liberation Sans, Arial, sans-serif').attr('font-size', 101)
  .attr('fill', '#ff1f2d')
knots.append('tspan').attr('x', 1899).attr('y', 118).text('z=2')
knots.append('tspan').attr('x', 1899).attr('y', 233).text('knots')

svg.append('text')
  .attr('x', 1692).attr('y', 1371)
  .attr('font-family', 'Liberation Sans, Arial, sans-serif').attr('font-size', 91.5)
  .attr('fill', '#000')
  .text('Jones+ (2010)')
</script>
</body>
</html>
